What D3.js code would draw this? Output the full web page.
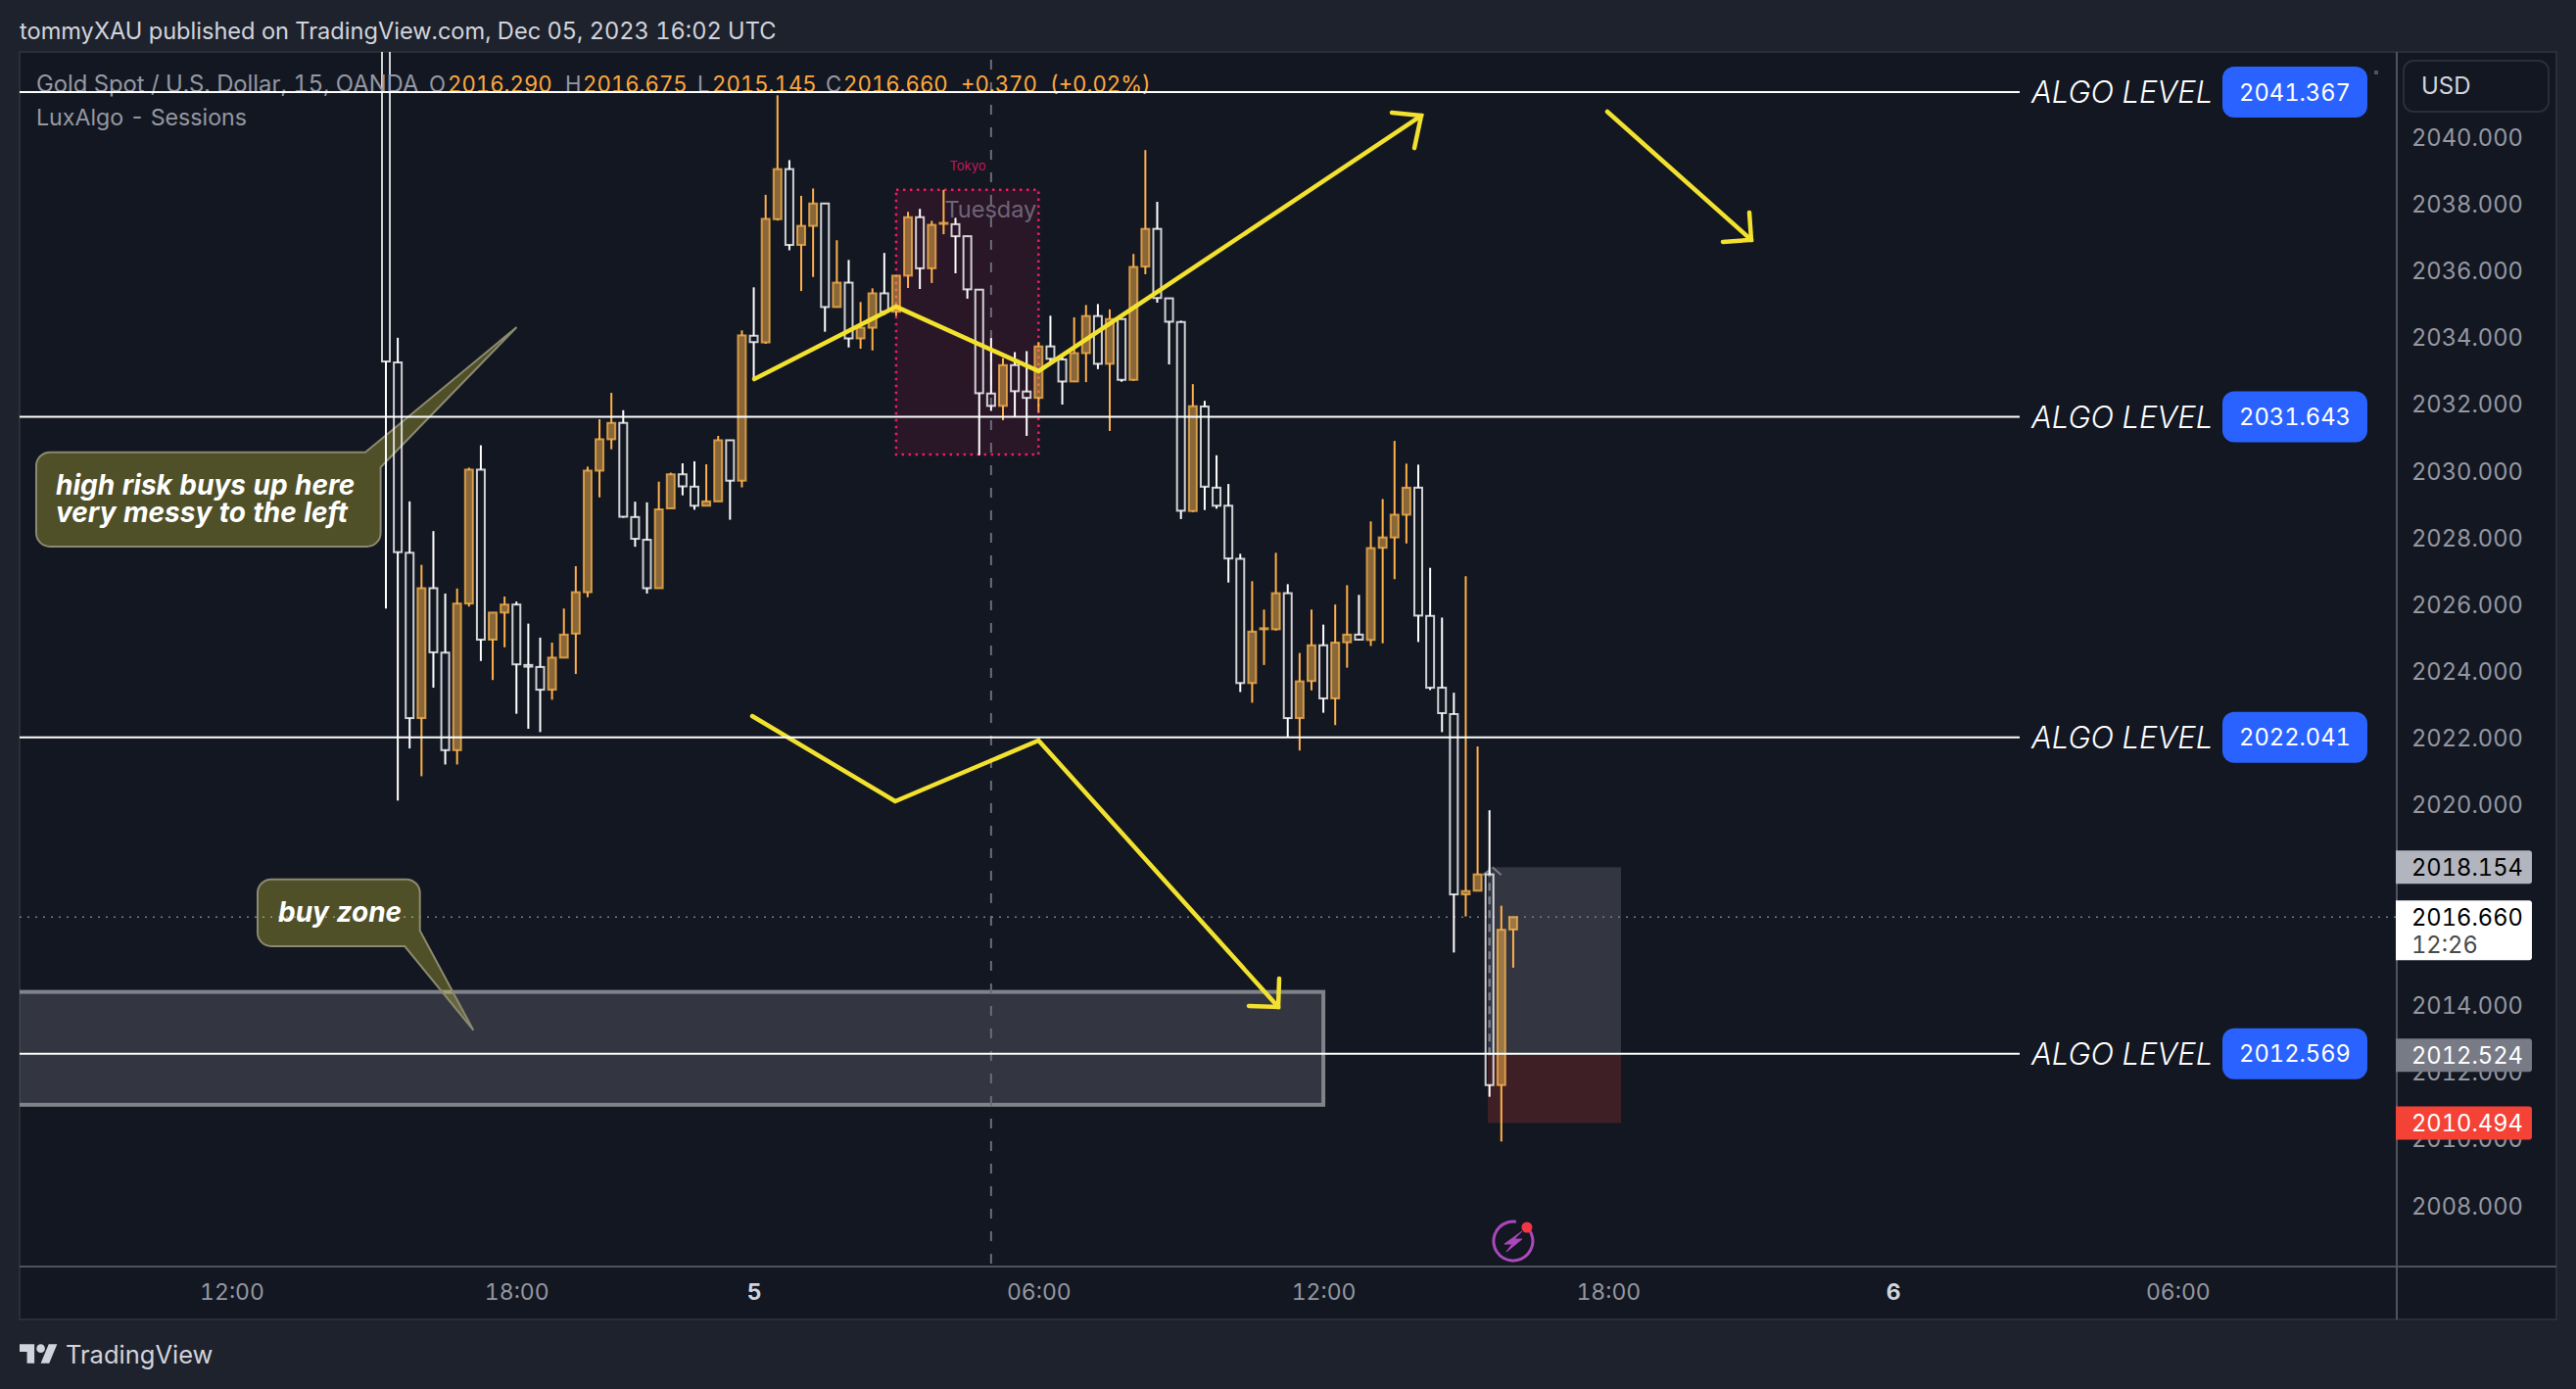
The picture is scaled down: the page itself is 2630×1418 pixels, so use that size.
<!DOCTYPE html>
<meta charset="utf-8">

<head>
  <style>
    html, body { margin: 0; padding: 0; background: #1e222d; overflow: hidden; }
    svg { display: block; }
    text { font-family: Inter, "Noto Sans", sans-serif; font-variant-numeric: tabular-nums; }
    .axis path, .axis line { display: none; }
    .axis text { font-family: Inter, sans-serif; font-size: 23.7px; fill: #9598a1; }
  </style>
</head>

<body>
  <div id="chart"></div>

  <script src="https://d3js.org/d3.v7.min.js"></script>

  <script>
    // 15 min bars, index 0 = first bar with its wick on screen
    var opens = [2044.00, 2033.27, 2027.57, 2022.62, 2026.51, 2024.58, 2021.66, 2026.05, 2030.06, 2024.97, 2025.78, 2026.02, 2024.21, 2024.15, 2023.47, 2024.43,
      2025.15, 2026.39, 2030.03, 2030.97, 2031.46, 2028.64, 2027.96, 2026.51, 2028.90, 2029.92, 2029.55, 2028.98, 2029.11, 2030.94, 2029.73, 2034.07,
      2033.87, 2037.56, 2039.06, 2036.79, 2037.36, 2038.03, 2034.93, 2035.66, 2033.99, 2034.31, 2035.34, 2034.79, 2035.87, 2037.62, 2036.09, 2037.43,
      2037.41, 2037.05, 2035.45, 2032.34, 2031.97, 2033.19, 2032.40, 2032.21, 2033.75, 2033.36, 2032.70, 2033.55, 2034.66, 2033.23, 2034.57, 2032.75,
      2036.14, 2037.27, 2035.19, 2034.48, 2028.82, 2031.95, 2029.52, 2028.98, 2027.39, 2023.67, 2025.29, 2025.28, 2026.36, 2022.62, 2023.73, 2024.80,
      2023.21, 2024.89, 2025.12, 2024.96, 2027.72, 2028.03, 2028.71, 2029.52, 2025.68, 2023.53, 2022.74, 2017.34, 2017.45, 2017.94, 2011.63, 2016.29];
    var highs = [2045.00, 2034.01, 2029.11, 2027.21, 2028.22, 2026.35, 2026.50, 2030.12, 2030.79, 2025.78, 2026.26, 2026.11, 2025.45, 2025.03, 2024.88, 2025.90,
      2027.17, 2030.15, 2031.57, 2032.36, 2031.84, 2029.10, 2029.08, 2029.70, 2029.97, 2030.25, 2030.31, 2030.22, 2031.07, 2030.95, 2034.23, 2035.52,
      2038.29, 2041.27, 2039.33, 2038.26, 2038.48, 2038.04, 2036.93, 2036.34, 2035.08, 2035.49, 2036.55, 2035.88, 2037.78, 2037.87, 2037.51, 2038.44,
      2037.60, 2037.06, 2035.46, 2034.00, 2033.40, 2033.58, 2033.61, 2033.88, 2034.67, 2033.52, 2034.62, 2034.99, 2035.02, 2034.86, 2034.59, 2036.52,
      2039.63, 2038.08, 2035.20, 2034.52, 2032.62, 2032.12, 2030.49, 2029.63, 2027.54, 2026.72, 2025.87, 2027.57, 2026.63, 2024.57, 2025.87, 2025.42,
      2026.02, 2026.60, 2026.31, 2028.51, 2029.18, 2030.92, 2030.24, 2030.21, 2027.12, 2025.63, 2023.38, 2026.87, 2021.77, 2019.86, 2017.00, 2016.675];
    var lows = [2025.90, 2020.15, 2021.71, 2020.88, 2023.53, 2021.23, 2021.23, 2025.96, 2024.33, 2023.76, 2024.74, 2022.75, 2022.30, 2022.20, 2023.17, 2024.43,
      2023.94, 2026.24, 2029.23, 2030.67, 2028.62, 2027.75, 2026.35, 2026.51, 2028.90, 2029.29, 2028.86, 2028.98, 2029.11, 2028.56, 2029.53, 2032.76,
      2033.83, 2037.52, 2036.63, 2035.41, 2035.83, 2034.19, 2034.92, 2033.72, 2033.68, 2033.63, 2034.69, 2034.66, 2035.50, 2035.47, 2035.65, 2037.11,
      2035.94, 2035.18, 2030.49, 2031.82, 2031.54, 2031.64, 2031.07, 2031.78, 2033.25, 2032.01, 2032.69, 2032.68, 2033.07, 2031.22, 2032.69, 2032.72,
      2035.91, 2035.06, 2033.21, 2028.58, 2028.79, 2028.85, 2028.89, 2026.68, 2023.40, 2023.08, 2024.21, 2025.24, 2022.05, 2021.65, 2023.45, 2022.78,
      2022.41, 2024.13, 2024.96, 2024.78, 2024.86, 2026.78, 2027.85, 2024.90, 2023.46, 2022.20, 2015.60, 2016.68, 2017.45, 2011.28, 2009.94, 2015.145];
    var closes = [2033.30, 2027.59, 2022.62, 2026.51, 2024.59, 2021.66, 2026.05, 2030.06, 2024.97, 2025.78, 2026.02, 2024.23, 2024.16, 2023.47, 2024.43, 2025.12,
      2026.39, 2030.03, 2030.97, 2031.46, 2028.65, 2027.99, 2026.51, 2028.87, 2029.92, 2029.56, 2028.98, 2029.11, 2030.94, 2029.73, 2034.08, 2033.88,
      2037.57, 2039.06, 2036.79, 2037.36, 2038.03, 2034.93, 2035.66, 2033.99, 2034.31, 2035.34, 2034.79, 2035.87, 2037.62, 2036.09, 2037.39, 2037.45,
      2037.05, 2035.46, 2032.35, 2031.97, 2033.19, 2032.41, 2032.21, 2033.75, 2033.38, 2032.70, 2033.55, 2034.66, 2033.23, 2034.57, 2032.75, 2036.13,
      2037.27, 2035.20, 2034.49, 2028.83, 2031.96, 2029.55, 2028.98, 2027.40, 2023.67, 2025.21, 2025.31, 2026.36, 2022.62, 2023.72, 2024.80, 2023.21,
      2024.88, 2025.12, 2024.97, 2027.71, 2028.03, 2028.71, 2029.52, 2025.69, 2023.53, 2022.77, 2017.34, 2017.44, 2017.94, 2011.63, 2016.28, 2016.66];

    // 2018 and 2016 sit behind the price tags in the picture
    var priceTicks = [2040, 2038, 2036, 2034, 2032, 2030, 2028, 2026, 2024, 2022, 2020, 2014, 2012, 2010, 2008];
    var timeTicks = [-13, 11, 31, 55, 79, 103, 127, 151];
    var timeLabels = ["12:00", "18:00", "5", "06:00", "12:00", "18:00", "6", "06:00"];
    var algoLevels = [2041.367, 2031.643, 2022.041, 2012.569];

    // drawings, [bar index, price]
    var zigzagUp = [[31.04, 2032.77], [43, 2034.94], [55, 2033.01], [87.25, 2040.66]];
    var zigzagUpHead = [[84.77, 2040.75], [87.25, 2040.66], [86.67, 2039.69]];
    var zigzagDown = [[30.87, 2022.68], [42.92, 2020.13], [55, 2021.95], [75.2, 2013.97]];
    var zigzagDownHead = [[72.72, 2014.0], [75.2, 2013.97], [75.28, 2014.82]];
    var arrowRight = [[102.93, 2040.78], [115.06, 2036.94]];
    var arrowRightHead = [[112.67, 2036.88], [115.06, 2036.94], [114.9, 2037.76]];

    var buyZone = { top: 2014.42, bottom: 2011.04, right: 79.0 };
    var session = { left: 43, right: 55, high: 2038.44, low: 2030.51 };
    var position = { left: 92.86, right: 104.09, dash: 93, target: 2018.154, entry: 2012.524, stop: 2010.494 };
    var lastPrice = 2016.66;

    var width = 2630, height = 1418;
    var pane = { left: 20, top: 53, right: 2447, bottom: 1293, outerRight: 2610, outerBottom: 1347 };

    var x = d3.scaleLinear().domain([0, 95]).range([394, 394 + 95 * 12.115]);
    var y = d3.scaleLinear().domain([2040, 2008]).range([140.6, 140.6 + 32 * 34.09]);

    var svg = d3.select("#chart").append("svg")
      .attr("width", width)
      .attr("height", height);

    svg.append("rect")
      .attr("x", pane.left).attr("y", pane.top)
      .attr("width", pane.outerRight - pane.left)
      .attr("height", pane.outerBottom - pane.top)
      .attr("fill", "#131722")
      .attr("stroke", "#2a2e39")
      .attr("stroke-width", 2);

    svg.append("clipPath").attr("id", "paneClip").append("rect")
      .attr("x", pane.left).attr("y", pane.top)
      .attr("width", pane.right - pane.left)
      .attr("height", pane.bottom - pane.top);

    var plot = svg.append("g").attr("clip-path", "url(#paneClip)");

    // header / legend text
    svg.append("text").attr("x", 20).attr("y", 32).attr("dy", "0.35em")
      .attr("font-size", 23.6).attr("fill", "#d1d4dc")
      .text("tommyXAU published on TradingView.com, Dec 05, 2023 16:02 UTC");

    svg.append("text").attr("x", 37).attr("y", 86).attr("dy", "0.35em")
      .attr("font-size", 23.8).attr("fill", "#9598a1")
      .text("Gold Spot / U.S. Dollar, 15, OANDA");
    svg.append("text").attr("x", 37).attr("y", 120).attr("dy", "0.35em")
      .attr("font-size", 23.2).attr("fill", "#9598a1")
      .text("LuxAlgo - Sessions");

    var ohlcLegend = [["O", 438, "#9598a1"], ["2016.290", 457, "#ffa93d"], ["H", 577, "#9598a1"], ["2016.675", 595, "#ffa93d"],
      ["L", 712, "#9598a1"], ["2015.145", 727, "#ffa93d"], ["C", 843, "#9598a1"], ["2016.660", 861, "#ffa93d"],
      ["+0.370", 981, "#ffa93d"], ["(+0.02%)", 1072, "#ffa93d"]];
    svg.selectAll(".ohlc")
      .data(ohlcLegend)
      .enter().append("text")
      .attr("class", "ohlc")
      .attr("x", function (d) { return d[1]; })
      .attr("y", 86).attr("dy", "0.35em")
      .attr("font-size", 22.2)
      .attr("fill", function (d) { return d[2]; })
      .text(function (d) { return d[0]; });

    // session box
    plot.append("rect")
      .attr("x", x(session.left)).attr("y", y(session.high))
      .attr("width", x(session.right) - x(session.left))
      .attr("height", y(session.low) - y(session.high))
      .attr("fill", "rgba(233,30,99,0.1)")
      .attr("stroke", "#e91e63")
      .attr("stroke-width", 2.5)
      .attr("stroke-dasharray", "2.5 4.5");
    plot.append("text").attr("x", 988).attr("y", 169).attr("dy", "0.35em")
      .attr("text-anchor", "middle").attr("font-size", 13).attr("fill", "#c2185b")
      .text("Tokyo");
    plot.append("text").attr("x", x(session.right) - 2).attr("y", 214).attr("dy", "0.35em")
      .attr("text-anchor", "end").attr("font-size", 23.5).attr("fill", "#6f6478")
      .text("Tuesday");

    // buy zone
    plot.append("rect")
      .attr("x", pane.left - 10).attr("y", y(buyZone.top))
      .attr("width", x(buyZone.right) - pane.left + 10)
      .attr("height", y(buyZone.bottom) - y(buyZone.top))
      .attr("fill", "rgba(178,181,190,0.2)")
      .attr("stroke", "#80838a")
      .attr("stroke-width", 4);

    // long position tool
    plot.append("rect")
      .attr("x", x(position.left)).attr("y", y(position.target))
      .attr("width", x(position.right) - x(position.left))
      .attr("height", y(position.entry) - y(position.target))
      .attr("fill", "rgba(178,181,190,0.2)");
    plot.append("rect")
      .attr("x", x(position.left)).attr("y", y(position.entry))
      .attr("width", x(position.right) - x(position.left))
      .attr("height", y(position.stop) - y(position.entry))
      .attr("fill", "rgba(244,67,54,0.19)");
    plot.append("line")
      .attr("x1", x(position.dash)).attr("x2", x(position.dash))
      .attr("y1", y(position.entry)).attr("y2", y(position.target) + 4)
      .attr("stroke", "#787b86").attr("stroke-width", 2.5).attr("stroke-dasharray", "8 6");
    plot.append("path")
      .attr("d", "M" + (x(position.dash) - 7) + "," + (y(position.target) + 8) + "L" + x(position.dash) + "," + (y(position.target) + 3)
        + "M" + (x(position.dash) + 3) + "," + (y(position.target) + 0) + "L" + (x(position.dash) + 12) + "," + (y(position.target) + 8))
      .attr("fill", "none").attr("stroke", "#787b86").attr("stroke-width", 2);

    // vertical crosshair and last price line
    plot.append("line")
      .attr("x1", x(51)).attr("x2", x(51))
      .attr("y1", pane.top + 8).attr("y2", pane.bottom)
      .attr("stroke", "#6a6d78").attr("stroke-width", 2).attr("stroke-dasharray", "10 13");
    plot.append("line")
      .attr("x1", pane.left).attr("x2", pane.right)
      .attr("y1", y(lastPrice)).attr("y2", y(lastPrice))
      .attr("stroke", "#787b86").attr("stroke-width", 1.5).attr("stroke-dasharray", "2 6");

    // callouts, under the candles
    function callout(p, text, tx, ty) {
      plot.append("path").attr("d", p)
        .attr("fill", "rgba(245,233,59,0.27)")
        .attr("stroke", "#8b8a70")
        .attr("stroke-width", 2);
      text.forEach(function (t, i) {
        svg.append("text").attr("class", "callout-text")
          .attr("x", tx).attr("y", ty + i * 28).attr("dy", "0.35em")
          .attr("font-size", 28).attr("font-style", "italic").attr("font-weight", 700)
          .attr("fill", "#ffffff")
          .text(t);
      });
    }
    callout("M51,461.7 H373 L527.5,334 L388.6,477 V544 a14,14 0 0 1 -14,14 H51 a14,14 0 0 1 -14,-14 V475.7 a14,14 0 0 1 14,-14 Z",
      ["high risk buys up here", "very messy to the left"], 57, 495);
    callout("M277,897.7 H414.7 a14,14 0 0 1 14,14 V950 L483.3,1051.7 L413.3,966 H277 a14,14 0 0 1 -14,-14 V911.7 a14,14 0 0 1 14,-14 Z",
      ["buy zone"], 284, 930.7);

    // candles
    var bars = d3.range(opens.length).map(function (i) {
      return { i: i, o: opens[i], h: highs[i], l: lows[i], c: closes[i], up: closes[i] >= opens[i] };
    });
    var upWick = "#ffb04a", downWick = "#ffffff";
    var bodyW = 8;

    var candle = plot.append("g").selectAll("g")
      .data(bars)
      .enter().append("g");

    candle.append("line")
      .attr("x1", function (d) { return x(d.i); })
      .attr("x2", function (d) { return x(d.i); })
      .attr("y1", function (d) { return y(d.h); })
      .attr("y2", function (d) { return y(Math.max(d.o, d.c)); })
      .attr("stroke", function (d) { return d.up ? upWick : downWick; })
      .attr("stroke-width", 2);
    candle.append("line")
      .attr("x1", function (d) { return x(d.i); })
      .attr("x2", function (d) { return x(d.i); })
      .attr("y1", function (d) { return y(Math.min(d.o, d.c)); })
      .attr("y2", function (d) { return y(d.l); })
      .attr("stroke", function (d) { return d.up ? upWick : downWick; })
      .attr("stroke-width", 2);
    candle.append("rect")
      .attr("x", function (d) { return x(d.i) - bodyW / 2; })
      .attr("y", function (d) { return y(Math.max(d.o, d.c)); })
      .attr("width", bodyW)
      .attr("height", function (d) { return Math.max(Math.abs(y(d.o) - y(d.c)), 1); })
      .attr("fill", function (d) { return d.up ? "rgba(255,183,77,0.5)" : "none"; })
      .attr("stroke", function (d) { return d.up ? "rgba(255,183,77,0.75)" : "rgba(255,255,255,0.8)"; })
      .attr("stroke-width", 2);

    // hand drawn yellow paths
    var pathLine = d3.line()
      .x(function (d) { return x(d[0]); })
      .y(function (d) { return y(d[1]); });
    [zigzagUp, zigzagUpHead, zigzagDown, zigzagDownHead, arrowRight, arrowRightHead].forEach(function (pts) {
      plot.append("path")
        .attr("d", pathLine(pts))
        .attr("fill", "none")
        .attr("stroke", "#f2e22f")
        .attr("stroke-width", 4.5)
        .attr("stroke-linecap", "round")
        .attr("stroke-linejoin", "miter");
    });

    // algo levels
    var level = svg.append("g").selectAll("g")
      .data(algoLevels)
      .enter().append("g")
      .attr("transform", function (d) { return "translate(0," + y(d) + ")"; });
    level.append("line")
      .attr("x1", pane.left).attr("x2", 2062)
      .attr("stroke", "#ffffff").attr("stroke-width", 2);
    level.append("text")
      .attr("x", 2074).attr("dy", "0.36em")
      .attr("font-size", 31).attr("font-style", "italic").attr("font-weight", 300)
      .attr("fill", "#ffffff")
      .text("ALGO LEVEL");
    level.append("rect")
      .attr("x", 2269).attr("y", -26)
      .attr("width", 148).attr("height", 52)
      .attr("rx", 12)
      .attr("fill", "#2962ff");
    level.append("text")
      .attr("x", 2343).attr("dy", "0.36em")
      .attr("text-anchor", "middle")
      .attr("font-size", 23.7)
      .attr("fill", "#ffffff")
      .text(function (d) { return d3.format(".3f")(d); });
    svg.append("rect").attr("x", 2424).attr("y", 72).attr("width", 4).attr("height", 4).attr("fill", "#50535e");

    // power icon
    var icon = plot.append("g").attr("transform", "translate(" + x(95) + ",1267)");
    icon.append("path")
      .attr("d", d3.arc().innerRadius(18.5).outerRadius(21.5).startAngle(0.9).endAngle(Math.PI * 2 + 0.15)())
      .attr("fill", "#ab47bc");
    icon.append("path")
      .attr("d", "M9,-10 L-9,3 L-1,3 L-7,11 L9,-2 L1,-2 Z")
      .attr("fill", "#ab47bc")
      .attr("stroke", "#ab47bc")
      .attr("stroke-width", 1);
    icon.append("circle").attr("cx", 14).attr("cy", -14).attr("r", 5.5).attr("fill", "#f23645");

    // axes
    svg.append("line")
      .attr("x1", pane.left).attr("x2", pane.outerRight)
      .attr("y1", pane.bottom).attr("y2", pane.bottom)
      .attr("stroke", "#50535e").attr("stroke-width", 2);
    svg.append("line")
      .attr("x1", pane.right).attr("x2", pane.right)
      .attr("y1", pane.top).attr("y2", pane.outerBottom)
      .attr("stroke", "#50535e").attr("stroke-width", 2);

    var yAxis = svg.append("g")
      .attr("class", "axis")
      .attr("transform", "translate(" + pane.right + ",0)")
      .call(d3.axisRight(y).tickValues(priceTicks).tickFormat(d3.format(".3f")).tickSize(0).tickPadding(15));

    var xAxis = svg.append("g")
      .attr("class", "axis")
      .attr("transform", "translate(0," + pane.bottom + ")")
      .call(d3.axisBottom(x)
        .tickValues(timeTicks)
        .tickFormat(function (d, i) { return timeLabels[i]; })
        .tickSize(0).tickPadding(18));
    xAxis.selectAll("text")
      .style("font-size", "23px")
      .style("font-weight", function (d, i) { return timeLabels[i].length == 1 ? 700 : 400; })
      .style("fill", function (d, i) { return timeLabels[i].length == 1 ? "#d1d4dc" : "#9598a1"; });

    // price labels on the axis
    var priceTags = [
      { p: position.target, bg: "#b2b5be", fg: "#000000" },
      { p: position.entry, bg: "#787b86", fg: "#ffffff" },
      { p: position.stop, bg: "#f44336", fg: "#ffffff" }
    ];
    var tag = svg.append("g").selectAll("g")
      .data(priceTags)
      .enter().append("g")
      .attr("transform", function (d) { return "translate(" + (pane.right - 1) + "," + y(d.p) + ")"; });
    tag.append("path")
      .attr("d", "M0,-17 H136 a3,3 0 0 1 3,3 V14 a3,3 0 0 1 -3,3 H0 Z")
      .attr("fill", function (d) { return d.bg; });
    tag.append("text")
      .attr("x", 16).attr("dy", "0.36em")
      .attr("font-size", 23.7)
      .attr("fill", function (d) { return d.fg; })
      .text(function (d) { return d3.format(".3f")(d.p); });

    var lastTag = svg.append("g").attr("transform", "translate(" + (pane.right - 1) + "," + y(lastPrice) + ")");
    lastTag.append("path")
      .attr("d", "M0,-17 H136 a3,3 0 0 1 3,3 V41 a3,3 0 0 1 -3,3 H0 Z")
      .attr("fill", "#ffffff");
    lastTag.append("text").attr("x", 16).attr("dy", "0.36em")
      .attr("font-size", 23.7).attr("fill", "#000000").text(d3.format(".3f")(lastPrice));
    lastTag.append("text").attr("x", 16).attr("y", 28).attr("dy", "0.36em")
      .attr("font-size", 23.7).attr("fill", "#4a4a4a").text("12:26");

    // currency button
    svg.append("rect")
      .attr("x", 2454).attr("y", 62).attr("width", 148).attr("height", 52).attr("rx", 10)
      .attr("fill", "#131722").attr("stroke", "#2a2e39").attr("stroke-width", 2);
    svg.append("text").attr("x", 2472).attr("y", 87.5).attr("dy", "0.36em")
      .attr("font-size", 24).attr("fill", "#d1d4dc").text("USD");

    // footer logo
    svg.append("g").attr("transform", "translate(20,1368) scale(1.08)")
      .call(function (g) {
        g.append("path").attr("d", "M14 22H7V11H0V4h14v18zM28 22h-8l7.5-18h8L28 22z").attr("fill", "#d1d4dc");
        g.append("circle").attr("cx", 20).attr("cy", 8).attr("r", 4).attr("fill", "#d1d4dc");
      });
    svg.append("text").attr("x", 67).attr("y", 1383).attr("dy", "0.35em")
      .attr("font-size", 25.5).attr("fill", "#d1d4dc").text("TradingView");
  </script>
</body>
